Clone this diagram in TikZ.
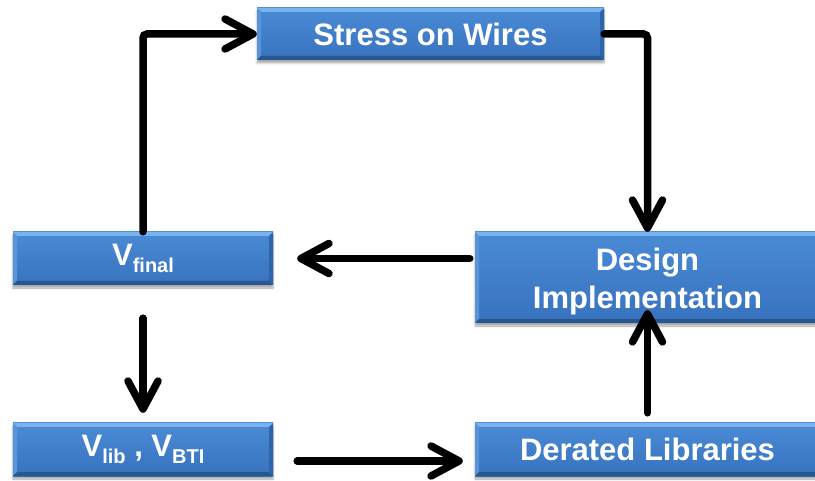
\documentclass[tikz,border=0pt]{standalone}
\usepackage{fontspec}
\setmainfont{Liberation Sans}
\usetikzlibrary{arrows.meta,shadows.blur}

\definecolor{boxtop}{HTML}{4A8BD6}
\definecolor{boxbot}{HTML}{3872BE}
\definecolor{bevtop}{HTML}{7AB2F0}
\definecolor{bevleft}{HTML}{5894DA}
\definecolor{bevright}{HTML}{2F64AA}
\definecolor{bevbot}{HTML}{28568F}

\newcommand{\sub}[1]{\raisebox{-7pt}{\fontsize{20}{20}\selectfont #1}}

\tikzset{
  boxtext/.style={text=white, align=center, inner sep=0pt,
    font=\fontsize{31}{38}\selectfont\bfseries},
  bevelbox/.style={
    rectangle, boxtext,
    top color=boxtop, bottom color=boxbot,
    blur shadow={shadow xshift=0pt, shadow yshift=-3pt,
                 shadow blur steps=6, shadow opacity=35},
    path picture={
      \coordinate (pnw) at (path picture bounding box.north west);
      \coordinate (pne) at (path picture bounding box.north east);
      \coordinate (psw) at (path picture bounding box.south west);
      \coordinate (pse) at (path picture bounding box.south east);
      \fill[bevtop]   (pnw) -- (pne) -- ([shift={(-4pt,-4pt)}]pne) -- ([shift={(4pt,-4pt)}]pnw) -- cycle;
      \fill[bevleft]  (pnw) -- ([shift={(4pt,-4pt)}]pnw) -- ([shift={(4pt,4pt)}]psw) -- (psw) -- cycle;
      \fill[bevbot]   (psw) -- (pse) -- ([shift={(-4pt,4pt)}]pse) -- ([shift={(4pt,4pt)}]psw) -- cycle;
      \fill[bevright] (pne) -- (pse) -- ([shift={(-4pt,4pt)}]pse) -- ([shift={(-4pt,-4pt)}]pne) -- cycle;
    }
  },
  flow/.style={
    line width=7.5pt, black, rounded corners=4pt, line cap=round,
    -{Straight Barb[length=28pt, width=30pt, round]}
  }
}

\begin{document}
\begin{tikzpicture}[x=1pt, y=-1pt]
  \useasboundingbox (0,0) rectangle (815,481);

  % process boxes
  \node[bevelbox, minimum width=347pt, minimum height=52pt] (sw) at (430.5,34) {Stress on Wires};
  \node[bevelbox, minimum width=260pt, minimum height=53pt] (vf) at (143,258.5) {V\sub{final}};
  \node[bevelbox, minimum width=260pt, minimum height=53pt] (vl) at (143,449.5) {V\sub{lib} , V\sub{BTI}};
  \node[bevelbox, minimum width=345pt, minimum height=91pt,
        label={[boxtext, yshift=-4pt]center:{Design\\Implementation}}] (di) at (647.5,277.5) {};
  \node[bevelbox, minimum width=345pt, minimum height=53pt] (dl) at (647.5,449.5) {Derated Libraries};

  % connectors
  \draw[flow] (vf.north) |- (sw.west);
  \draw[flow] (sw.east) -| (di.north);
  \draw[flow, shorten <=5pt, shorten >=24pt] (di.west |- vf.east) -- (vf.east);
  \draw[flow, shorten <=33pt, shorten >=10pt] (vf.south) -- (vl.north);
  \coordinate (vlout) at ([yshift=-11.5pt]vl.east);
  \draw[flow, shorten <=24pt, shorten >=12pt] (vlout) -- (dl.west |- vlout);
  \draw[flow, shorten <=10pt, shorten >=-13pt] (dl.north) -- (di.south);
\end{tikzpicture}
\end{document}
